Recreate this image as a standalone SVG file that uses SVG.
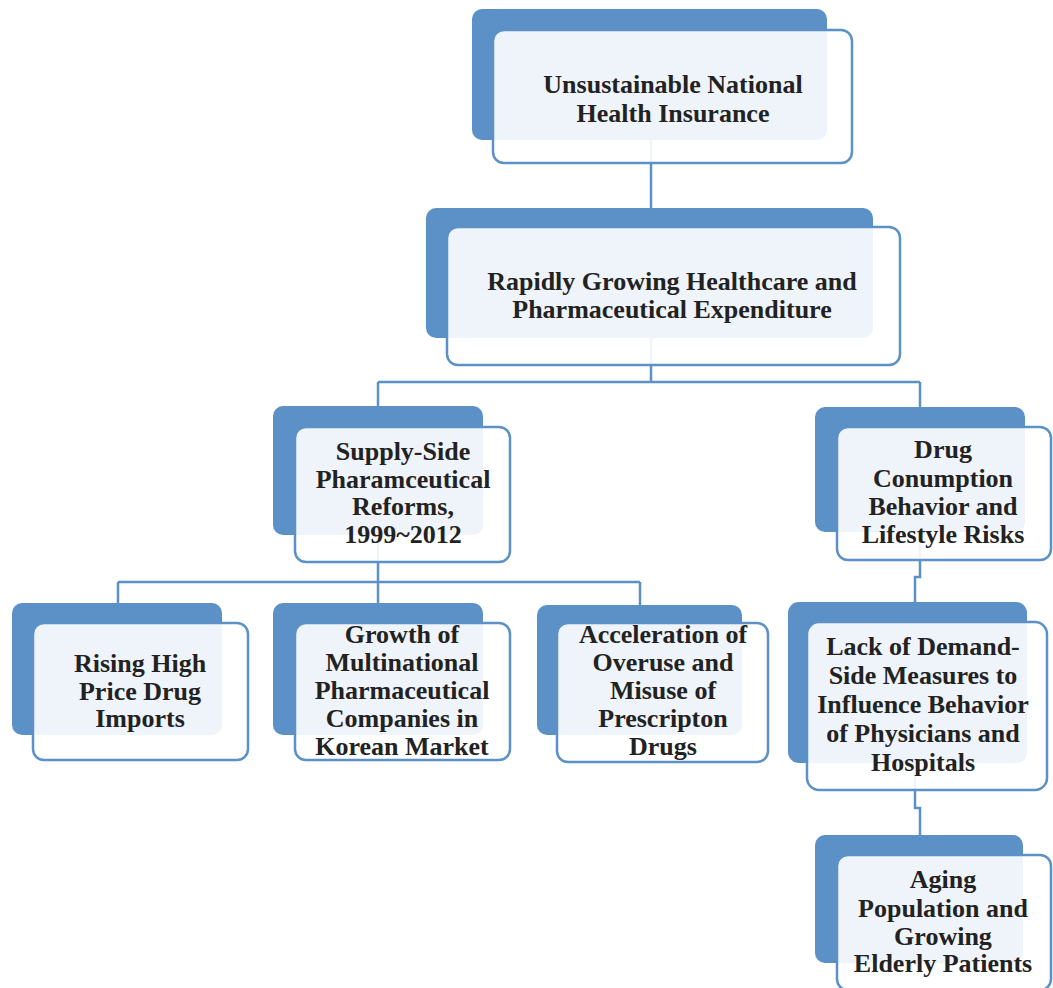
<svg xmlns="http://www.w3.org/2000/svg" width="1053" height="988" viewBox="0 0 1053 988">
<style>
.back{fill:#5b91c7;}
.front{fill:#ffffff;fill-opacity:0.9;stroke:#5b91c7;stroke-width:2.5;}
.con{fill:none;stroke:#5b91c7;stroke-width:2.5;}
text{font-family:"Liberation Serif","Times New Roman",serif;font-weight:bold;font-size:26px;fill:#222222;text-anchor:middle;}
</style>
<rect width="1053" height="988" fill="#ffffff"/>
<g id="connectors">
<path class="con" d="M651,140 V208"/>
<path class="con" d="M651,338 V382 M378,382 H920 M378,382 V406 M920,382 V407"/>
<path class="con" d="M378,535 V582 M118,582 H640 M118,582 V603 M378,582 V603 M640,582 V605"/>
<path class="con" d="M920,532 V577 H915 V602"/>
<path class="con" d="M915,763 V808 H920 V835"/>
</g>
<g id="n1">
<rect class="back" x="472" y="9" width="355" height="131" rx="10"/>
<rect class="front" x="493" y="30" width="359" height="133" rx="11"/>
<text x="673" y="93">Unsustainable National</text>
<text x="673" y="122">Health Insurance</text>
</g>
<g id="n2">
<rect class="back" x="426" y="208" width="447" height="130" rx="10"/>
<rect class="front" x="447" y="227" width="453" height="138" rx="11"/>
<text x="672" y="290">Rapidly Growing Healthcare and</text>
<text x="672" y="318">Pharmaceutical Expenditure</text>
</g>
<g id="n3">
<rect class="back" x="273" y="406" width="210" height="129" rx="10"/>
<rect class="front" x="295" y="427" width="215" height="135" rx="11"/>
<text x="403" y="460">Supply-Side</text>
<text x="403" y="488">Pharamceutical</text>
<text x="403" y="515">Reforms,</text>
<text x="403" y="543">1999~2012</text>
</g>
<g id="n4">
<rect class="back" x="815" y="407" width="210" height="125" rx="10"/>
<rect class="front" x="837" y="427" width="214" height="133" rx="11"/>
<text x="943" y="458">Drug</text>
<text x="943" y="487">Conumption</text>
<text x="943" y="515">Behavior and</text>
<text x="943" y="543">Lifestyle Risks</text>
</g>
<g id="n5">
<rect class="back" x="12" y="603" width="210" height="132" rx="10"/>
<rect class="front" x="33" y="623" width="215" height="137" rx="11"/>
<text x="140" y="672">Rising High</text>
<text x="140" y="700">Price Drug</text>
<text x="140" y="727">Imports</text>
</g>
<g id="n6">
<rect class="back" x="273" y="603" width="210" height="132" rx="10"/>
<rect class="front" x="295" y="623" width="215" height="137" rx="11"/>
<text x="402" y="643">Growth of</text>
<text x="402" y="671">Multinational</text>
<text x="402" y="699">Pharmaceutical</text>
<text x="402" y="727">Companies in</text>
<text x="402" y="755">Korean Market</text>
</g>
<g id="n7">
<rect class="back" x="537" y="605" width="205" height="130" rx="10"/>
<rect class="front" x="557" y="623" width="211" height="139" rx="11"/>
<text x="663" y="643">Acceleration of</text>
<text x="663" y="671">Overuse and</text>
<text x="663" y="699">Misuse of</text>
<text x="663" y="727">Prescripton</text>
<text x="663" y="755">Drugs</text>
</g>
<g id="n8">
<rect class="back" x="788" y="602" width="239" height="161" rx="11"/>
<rect class="front" x="807" y="622" width="240" height="168" rx="12"/>
<text x="923" y="655">Lack of Demand-</text>
<text x="923" y="684">Side Measures to</text>
<text x="923" y="713">Influence Behavior</text>
<text x="923" y="742">of Physicians and</text>
<text x="923" y="771">Hospitals</text>
</g>
<g id="n9">
<rect class="back" x="815" y="835" width="208" height="128" rx="10"/>
<rect class="front" x="837" y="855" width="214" height="135" rx="11"/>
<text x="943" y="888">Aging</text>
<text x="943" y="917">Population and</text>
<text x="943" y="945">Growing</text>
<text x="943" y="972">Elderly Patients</text>
</g>
</svg>
